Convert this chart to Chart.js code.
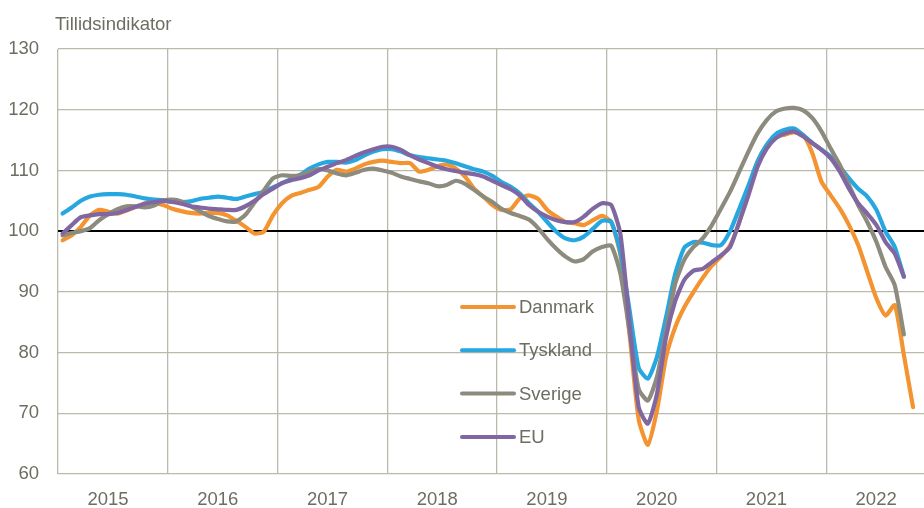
<!DOCTYPE html>
<html>
<head>
<meta charset="utf-8">
<script src="https://cdn.jsdelivr.net/npm/chart.js@4.4.0/dist/chart.umd.min.js"></script>
<style>
    html, body { margin: 0; padding: 0; background: #fff; }
</style>
</head>
<body>
<canvas id="grafTillid" width="924" height="508"></canvas>
<script>
// Årstal på x-aksen (én værdi pr. måned fra januar 2015)
const aar = ["2015", "2016", "2017", "2018", "2019", "2020", "2021", "2022"];

const danmark = [
    98.5, 99.3, 100.7, 102.6, 103.5, 103.2, 102.9, 103.4, 104.0, 104.6, 104.7, 104.3,
    103.7, 103.3, 103.0, 102.9, 103.0, 103.0, 102.6, 101.7, 100.7, 99.6, 99.9, 102.6,
    104.6, 105.8, 106.3, 106.8, 107.3, 109.0, 110.1, 109.8, 110.3, 111.0, 111.4, 111.6,
    111.4, 111.2, 111.2, 109.8, 110.1, 110.7, 111.0, 110.3, 109.0, 107.0, 105.7, 104.3,
    103.5, 103.6, 105.4, 105.9, 105.3, 103.5, 102.4, 101.5, 101.3, 101.0, 101.8, 102.5,
    101.5, 96.0, 83.0, 69.0, 64.8, 70.5, 79.3, 84.2, 87.5, 90.0, 92.3, 94.3,
    95.8, 97.7, 101.5, 107.0, 111.4, 114.2, 115.6, 115.9, 116.3, 115.8, 112.8, 108.1,
    105.9, 103.7, 101.0, 97.7, 93.3, 88.9, 86.1, 87.8, 79.6, 71.0
];

const tyskland = [
    102.9, 103.9, 105.0, 105.7, 106.0, 106.1, 106.1, 106.0, 105.7, 105.4, 105.2, 105.1,
    104.9, 104.8, 104.9, 105.3, 105.5, 105.7, 105.5, 105.3, 105.7, 106.1, 106.5, 107.2,
    107.9, 108.6, 109.3, 110.3, 111.0, 111.4, 111.4, 111.3, 111.7, 112.5, 113.1, 113.5,
    113.5, 113.1, 112.5, 112.2, 112.0, 111.8, 111.6, 111.2, 110.7, 110.2, 109.8, 109.1,
    108.1, 107.3, 106.2, 104.6, 103.2, 101.5, 99.9, 98.8, 98.5, 99.1, 100.4, 101.7,
    101.5, 96.5, 87.0, 77.5, 75.7, 79.3, 85.9, 93.0, 97.3, 98.2, 98.1, 97.7,
    97.7, 100.0, 103.7, 107.5, 111.5, 114.2, 116.0, 116.7, 116.9, 115.8, 114.5, 113.4,
    112.3, 110.6, 108.7, 107.0, 105.7, 103.5, 99.9, 97.4, 92.5
];

const sverige = [
    99.3, 99.7, 100.0, 100.5, 101.8, 102.8, 103.6, 104.1, 104.1, 103.9, 104.2, 105.0,
    105.2, 104.9, 104.1, 103.3, 102.5, 102.0, 101.6, 101.6, 102.7, 104.7, 106.7, 108.7,
    109.2, 109.1, 109.2, 109.8, 110.2, 110.0, 109.5, 109.2, 109.6, 110.1, 110.3, 110.0,
    109.6, 109.0, 108.6, 108.2, 107.9, 107.4, 107.6, 108.3, 107.8, 106.8, 105.7, 104.8,
    103.7, 103.0, 102.5, 101.9, 100.5, 98.7, 97.1, 95.8, 95.0, 95.4, 96.7, 97.4,
    97.6, 93.0, 83.5, 74.0, 72.1, 76.0, 83.7, 91.4, 95.3, 97.4, 98.8, 101.0,
    103.7, 106.5, 109.8, 113.1, 116.1, 118.3, 119.7, 120.2, 120.3, 119.9, 118.6, 116.4,
    113.6, 110.9, 107.6, 104.3, 101.5, 98.2, 94.1, 91.1, 83.0
];

const eu = [
    99.6, 101.0, 102.3, 102.6, 102.8, 102.8, 103.0, 103.5, 104.0, 104.5, 104.8, 105.0,
    104.8, 104.5, 104.1, 103.9, 103.7, 103.6, 103.5, 103.5, 104.1, 105.0, 106.1, 107.0,
    107.9, 108.4, 108.7, 109.2, 110.0, 110.6, 111.2, 111.7, 112.4, 113.0, 113.5, 113.9,
    113.9, 113.4, 112.5, 111.8, 111.2, 110.6, 110.2, 109.9, 109.6, 109.4, 109.0, 108.3,
    107.6, 106.9, 105.9, 104.3, 103.2, 102.4, 101.8, 101.5, 101.5, 102.4, 103.7, 104.6,
    104.3, 99.5, 84.8, 71.0, 68.3, 73.2, 82.6, 88.5, 92.0, 93.5, 93.8, 94.9,
    96.0, 97.4, 101.5, 105.9, 110.6, 113.6, 115.3, 116.1, 116.4, 115.6, 114.5, 113.4,
    112.0, 109.8, 107.0, 104.6, 102.9, 101.0, 98.2, 96.3, 92.5
];

const tekstFarve = "#6e6d62";
const gridFarve = "#bab9ac";
const skrift = "'Liberation Sans', Arial, sans-serif";
const skriftStr = 18.5;

// måned nr. i -> midt i måneden på x-aksen
function tilPunkter(serie) {
    return serie.map((v, i) => ({ x: i + 0.5, y: v }));
}

// Forklaring og overskrift tegnes inde i plottet
const forklaring = {
    id: "forklaring",
    afterDatasetsDraw(chart) {
        const ctx = chart.ctx;
        ctx.save();
        ctx.font = skriftStr + "px " + skrift;
        ctx.fillStyle = tekstFarve;
        ctx.textAlign = "left";
        ctx.textBaseline = "alphabetic";
        ctx.fillText("Tillidsindikator", 55, 29.5);

        ctx.textBaseline = "middle";
        chart.data.datasets.forEach((ds, i) => {
            const y = 307 + i * 43.3;
            ctx.strokeStyle = ds.borderColor;
            ctx.lineWidth = 4;
            ctx.lineCap = "round";
            ctx.beginPath();
            ctx.moveTo(462, y);
            ctx.lineTo(514, y);
            ctx.stroke();
            ctx.fillText(ds.label, 519, y + 1);
        });
        ctx.restore();
    }
};

new Chart(document.getElementById("grafTillid"), {
    type: "line",
    data: {
        datasets: [
            { label: "Danmark", data: tilPunkter(danmark), borderColor: "#f39431", order: 4 },
            { label: "Tyskland", data: tilPunkter(tyskland), borderColor: "#27a7df", order: 3 },
            { label: "Sverige", data: tilPunkter(sverige), borderColor: "#8c8b7d", order: 2 },
            { label: "EU", data: tilPunkter(eu), borderColor: "#8067a2", order: 1 }
        ]
    },
    options: {
        responsive: false,
        animation: false,
        devicePixelRatio: 1,
        layout: { padding: { top: 49, right: 0, bottom: 0, left: 0 } },
        elements: {
            line: { borderWidth: 4.2, tension: 0.2, fill: false, borderCapStyle: "round", borderJoinStyle: "round" },
            point: { radius: 0 }
        },
        plugins: {
            legend: { display: false },
            tooltip: { enabled: false }
        },
        scales: {
            x: {
                type: "linear",
                min: 0,
                max: 94.7,
                afterBuildTicks: (scale) => {
                    scale.ticks = aar.map((a, k) => ({ value: k * 12 }));
                },
                afterFit: (scale) => { scale.height = 34; },
                grid: { color: gridFarve, lineWidth: 1.3, drawTicks: false },
                border: { display: false },
                ticks: {
                    autoSkip: false,
                    maxRotation: 0,
                    padding: 15,
                    labelOffset: 50,
                    color: tekstFarve,
                    font: { family: skrift, size: skriftStr },
                    callback: (value) => aar[Math.round(value / 12)]
                }
            },
            y: {
                min: 60,
                max: 130,
                afterFit: (scale) => { scale.width = 58; },
                grid: {
                    drawTicks: false,
                    color: (c) => c.tick.value === 100 ? "#000000" : gridFarve,
                    lineWidth: (c) => c.tick.value === 100 ? 2 : 1.3
                },
                border: { display: false },
                ticks: {
                    stepSize: 10,
                    padding: 19,
                    color: tekstFarve,
                    font: { family: skrift, size: skriftStr }
                }
            }
        }
    },
    plugins: [forklaring]
});
</script>
</body>
</html>
